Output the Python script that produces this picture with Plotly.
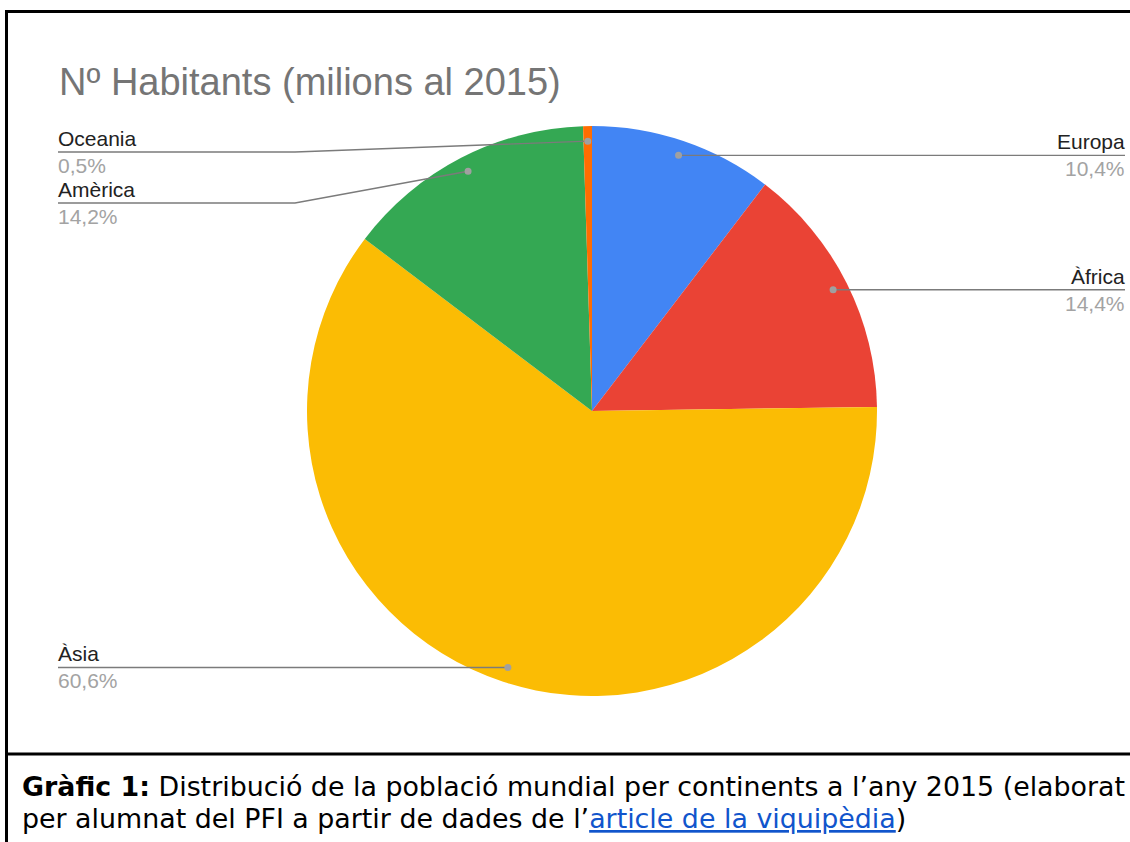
import math
import plotly.graph_objects as go

# ---- data ----
continents = ["Europa", "Àfrica", "Àsia", "Amèrica", "Oceania"]
shares = [10.4, 14.4, 60.6, 14.2, 0.5]
colors = ["#4285F4", "#EA4335", "#FBBC04", "#34A853", "#FF6D01"]
title_text = "Nº Habitants (milions al 2015)"

W, H = 1130, 842
CX, CY, R = 592, 411, 285

fig = go.Figure()

fig.add_trace(go.Pie(
    labels=continents, values=shares, sort=False, direction="clockwise", rotation=0,
    marker=dict(colors=colors, line=dict(width=0)),
    textinfo="none", hoverinfo="label+percent", showlegend=False,
    domain=dict(x=[(CX - R) / W, (CX + R) / W], y=[1 - (CY + R) / H, 1 - (CY - R) / H]),
))

# ---- leader lines and labels, computed from the slice angles ----
total = sum(shares)
cum = 0.0
items = []
for name, v in zip(continents, shares):
    mid = 2 * math.pi * (cum + v / 2) / total
    cum += v
    dx = CX + 0.947 * R * math.sin(mid)
    dy = CY - 0.947 * R * math.cos(mid)
    items.append(dict(name=name, v=v, dx=dx, dy=dy, right=math.sin(mid) > 0.02))

LEFT_EDGE, RIGHT_EDGE = 58, 1125
LEFT_ELBOW = 295
TOP_MIN = 152
SPACING = 51

left = sorted([it for it in items if not it["right"]], key=lambda d: d["dy"])
right = sorted([it for it in items if it["right"]], key=lambda d: d["dy"])
for group in (left, right):
    prev = None
    for it in group:
        ly = it["dy"]
        if not it["right"]:
            ly = max(ly, TOP_MIN)
        if prev is not None:
            ly = max(ly, prev + SPACING)
        it["ly"] = ly
        prev = ly

line_col = "#7b7b7b"
label_font = "Arial, Liberation Sans"
for it in items:
    edge = RIGHT_EDGE if it["right"] else LEFT_EDGE
    if abs(it["ly"] - it["dy"]) < 0.5:
        path = f"M {it['dx']} {it['dy']} L {edge} {it['ly']}"
    else:
        elbow = LEFT_ELBOW if not it["right"] else W - LEFT_ELBOW
        path = f"M {it['dx']} {it['dy']} L {elbow} {it['ly']} L {edge} {it['ly']}"
    fig.add_shape(type="path", path=path, xref="x", yref="y", layer="above",
                  line=dict(color=line_col, width=1.4))
    fig.add_shape(type="circle", xref="x", yref="y", layer="above",
                  x0=it["dx"] - 3.5, x1=it["dx"] + 3.5, y0=it["dy"] - 3.5, y1=it["dy"] + 3.5,
                  fillcolor="#a0a0a0", line=dict(width=0))
    anchor = "right" if it["right"] else "left"
    xs = 1 if it["right"] else -1
    fig.add_annotation(x=edge, y=it["ly"] - 1, xref="x", yref="y", text=it["name"], showarrow=False,
                       xanchor=anchor, yanchor="bottom", xshift=xs, borderpad=0,
                       font=dict(family=label_font, size=21, color="#222222"))
    pct = f"{it['v']:.1f}%".replace(".", ",")
    fig.add_annotation(x=edge, y=it["ly"] + 1, xref="x", yref="y", text=pct, showarrow=False,
                       xanchor=anchor, yanchor="top", xshift=xs, borderpad=0,
                       font=dict(family=label_font, size=21, color="#a3a3a3"))

# title
fig.add_annotation(x=58, y=82, xref="x", yref="y", text=title_text, showarrow=False,
                   xanchor="left", yanchor="middle", xshift=-1,
                   font=dict(family=label_font, size=38, color="#757575"))

# caption
cap1 = "<b>Gràfic 1:</b> Distribució de la població mundial per continents a l’any 2015 (elaborat"
cap2 = ("per alumnat del PFI a partir de dades de l’"
        "<a href='https://ca.wikipedia.org/wiki/Poblaci%C3%B3_mundial' style='color:#1155cc'>"
        "<span style='color:#1155cc'><u>article de la viquipèdia</u></span></a>)")
for txt, yy in ((cap1, 786), (cap2, 818)):
    fig.add_annotation(x=22, y=yy, xref="x", yref="y", text=txt, showarrow=False,
                       xanchor="left", yanchor="middle", xshift=-2,
                       font=dict(family="DejaVu Sans, Verdana", size=26.85, color="#000000"))

# frame lines
fig.add_shape(type="line", x0=5, x1=W, y0=11.5, y1=11.5, xref="x", yref="y", line=dict(color="black", width=3))
fig.add_shape(type="line", x0=6.5, x1=6.5, y0=10, y1=H, xref="x", yref="y", line=dict(color="black", width=3))
fig.add_shape(type="line", x0=5, x1=W, y0=754, y1=754, xref="x", yref="y", line=dict(color="black", width=3))

fig.update_layout(
    width=W, height=H, margin=dict(l=0, r=0, t=0, b=0),
    paper_bgcolor="white", plot_bgcolor="rgba(0,0,0,0)",
    xaxis=dict(range=[0, W], visible=False, fixedrange=True),
    yaxis=dict(range=[H, 0], visible=False, fixedrange=True),
)

fig.write_html("out.html", config={"displayModeBar": False},
               post_script="document.body.style.margin='0px';document.body.style.overflow='hidden';")
